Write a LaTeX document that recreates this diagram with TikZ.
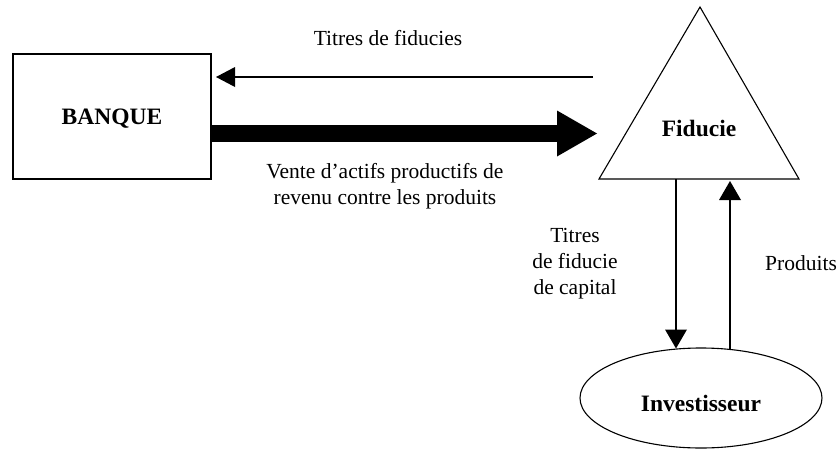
\documentclass[tikz,border=0pt]{standalone}
\usepackage{fontspec}
\setmainfont{Liberation Serif}
\usetikzlibrary{arrows.meta,shapes.geometric}
\begin{document}
\begin{tikzpicture}[x=1pt,y=-1pt,
  lbl/.style={font=\fontsize{21.5}{26}\selectfont, inner sep=0pt, align=center},
  blbl/.style={font=\fontsize{23.5}{28}\selectfont\bfseries, inner sep=0pt},
  shape line/.style={draw, line width=1.1pt},
  thinarr/.style={line width=2pt, -{Triangle[length=19pt,width=20pt,line width=0pt]}},
  vertarr/.style={line width=2.6pt, -{Triangle[length=19pt,width=22pt,line width=0pt]}},
  bigarr/.style={line width=17pt, -{Triangle[length=40pt,width=46pt,line width=0pt]}}
]
\useasboundingbox (0,0) rectangle (839,450);
% Bank box
\node[shape line, blbl, minimum width=198pt, minimum height=125pt, text depth=0pt] (banque) at (112,116.5) {BANQUE};
% Trust triangle
\coordinate (apex) at (700,7);
\coordinate (tr) at (799,179);
\coordinate (tl) at (599,179);
\draw[line width=1.1pt, line join=miter] (apex) -- (tr) -- (tl) -- cycle;
\node[blbl, anchor=base] (fiducie) at (699,136) {Fiducie};
% Investor ellipse
\node[shape line, ellipse, blbl, minimum width=242pt, minimum height=100pt, text height=26pt, text depth=0pt] (inv) at (701,398) {Investisseur};
% Connector end points
\coordinate (a1) at (593,77);
\coordinate (a2) at (216,77);
\coordinate (b1) at (211,133.5);
\coordinate (b2) at (597,133.5);
\coordinate (c1) at (676,179);
\coordinate (c2) at (676,348.5);
\coordinate (d1) at (730,350);
\coordinate (d2) at (730,181);
% Connectors
\draw[thinarr] (a1) -- (a2);
\draw[bigarr] (b1) -- (b2);
\draw[vertarr] (c1) -- (c2);
\draw[vertarr] (d1) -- (d2);
% Labels
\node[lbl, anchor=base] (l1) at (388,45) {Titres de fiducies};
\node[lbl] (l2) at (385,186) {Vente d’actifs productifs de\\revenu contre les produits};
\node[lbl] (l3) at (575,264) {Titres\\de fiducie\\de capital};
\node[lbl, anchor=base west] (l4) at (765,270) {Produits};
\end{tikzpicture}
\end{document}
